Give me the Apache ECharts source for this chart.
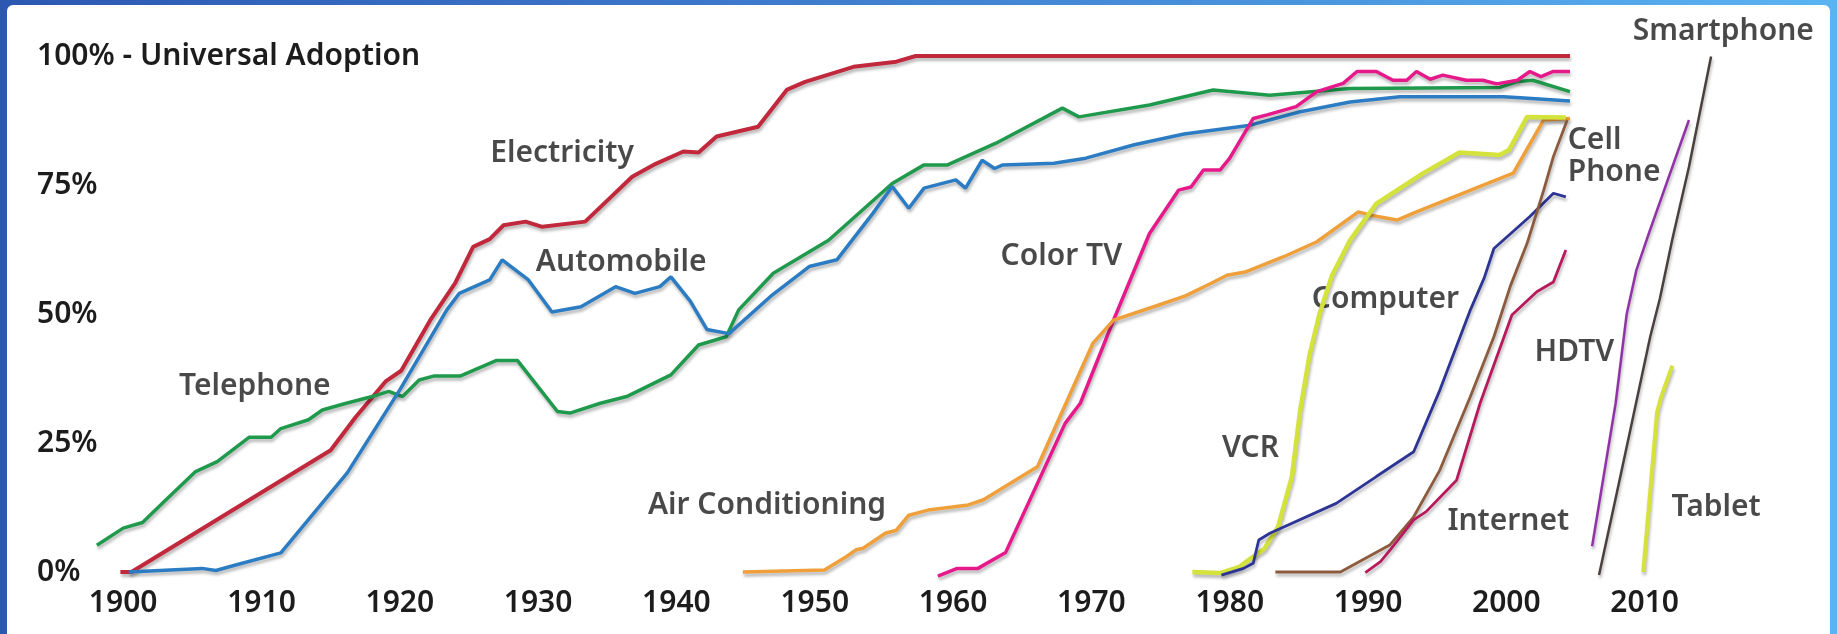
<!DOCTYPE html>
<html>
<head>
<meta charset="utf-8">
<script src="https://cdn.jsdelivr.net/npm/echarts@6/dist/echarts.min.js"></script>
<style>
    html, body { margin: 0; padding: 0; }
    body {
        width: 1837px; height: 634px; overflow: hidden; position: relative;
        background: linear-gradient(to right, #2d58b2 0%, #3b74c9 35%, #4a94dd 70%, #5ab4f2 100%);
    }
    #panel { position: absolute; left: 7px; top: 5px; right: 7px; bottom: 0; background: #fff; border-radius: 6px 6px 0 0; }
    #chart { position: absolute; left: 0; top: 0; width: 1837px; height: 634px; }
</style>
</head>
<body>
<div id="panel"></div>
<div id="chart"></div>
<script>
// adoption share (%) by year
var electricity = [[1899.8,0],[1900.6,0],[1915,23.6],[1916.8,30],[1919,37],[1920.1,39],[1922.2,48.8],[1924,56],[1925.3,63],[1926.5,64.5],[1927.5,67.2],[1929.1,67.9],[1930.3,66.9],[1933.4,67.9],[1935.2,72.5],[1936.8,76.6],[1938.5,79.1],[1940.5,81.5],[1941.6,81.3],[1942.9,84.4],[1945.9,86.3],[1948,93.5],[1949.3,95],[1952.8,97.9],[1955.9,98.9],[1957.3,100],[2004.6,100]];
var automobile = [[1900.4,0],[1905.7,0.7],[1906.7,0.3],[1908.2,1.4],[1911.4,3.7],[1916.2,19.2],[1920,35.3],[1923.4,50.8],[1924.3,54],[1926.5,56.6],[1927.4,60.5],[1929.3,56.6],[1931,50.4],[1933.1,51.4],[1935.6,55.3],[1937,54],[1938.8,55.3],[1939.6,57.2],[1941,52.5],[1942.2,47],[1943.8,46.2],[1946.8,53.4],[1949.6,59.2],[1951.6,60.5],[1954.2,69.5],[1955.6,74.7],[1956.8,70.5],[1957.9,74.4],[1960.2,76],[1960.9,74.4],[1962.1,79.8],[1963,78.2],[1963.6,78.9],[1967.3,79.2],[1969.6,80.2],[1973.1,82.8],[1976.7,84.9],[1981.5,86.6],[1985.1,89.2],[1988.7,91.1],[1992.3,92.1],[1999.8,92.1],[2001,91.9],[2004.6,91.3]];
var telephone = [[1898.1,5.2],[1900,8.5],[1901.4,9.6],[1903.1,14],[1905.2,19.4],[1906.8,21.4],[1909.1,26.1],[1910.7,26.1],[1911.4,27.8],[1913.4,29.5],[1914.4,31.4],[1916,32.6],[1918,34],[1919.2,35],[1920.2,34],[1921.4,37.2],[1922.5,38],[1924.4,38],[1927,41],[1928.5,41],[1931.4,31.1],[1932.3,30.8],[1934.5,32.7],[1936.4,34],[1939.6,38.2],[1941.6,44],[1943.6,45.6],[1944.5,50.8],[1947,57.9],[1951,64.3],[1955.6,75.3],[1957.9,78.9],[1959.6,78.9],[1963.1,83.1],[1967.9,89.9],[1969.1,88.2],[1974.2,90.5],[1978.8,93.4],[1982.9,92.4],[1988.7,93.7],[1999.5,93.9],[2000.7,95],[2001.9,95.3],[2004.6,93.1]];
var colorTV = [[1958.9,-0.8],[1960.3,0.7],[1961.8,0.7],[1963.8,3.8],[1968.1,28.8],[1969.2,32.7],[1971.6,48.8],[1974.2,65.6],[1976.3,74],[1977.2,74.6],[1978.1,77.9],[1979.3,77.9],[1980,80.2],[1981.7,87.9],[1982.7,88.6],[1984.8,90.2],[1986.3,93.1],[1988.2,94.7],[1989.2,97],[1990.6,97],[1991.8,95.3],[1992.8,95.3],[1993.5,97],[1994.5,95.5],[1995.4,96.3],[1997.1,95.3],[1998.3,95.3],[1999.3,94.6],[2000.8,95.3],[2001.7,97],[2002.5,96],[2003.4,97],[2004.6,97]];
var airConditioning = [[1944.8,0],[1950.7,0.4],[1952.3,3],[1953,4.3],[1953.5,4.6],[1955.1,7.5],[1955.9,8.1],[1956.8,11],[1958.2,12],[1961.1,13],[1962.2,14],[1964.5,17.8],[1966.1,20.4],[1970.1,44.3],[1971.6,48.8],[1974.5,51.4],[1976.8,53.5],[1978.7,56],[1979.8,57.5],[1981.2,58.2],[1983.9,61.1],[1986.3,64],[1989.3,69.8],[1990.1,69.2],[1992.1,68.2],[1993.5,69.8],[2000.5,77.3],[2002.7,87.6],[2004.6,87.9]];
var vcr = [[1977.3,0],[1979.3,-0.2],[1980.7,1],[1981.7,3],[1982.5,4.5],[1983.5,8.8],[1984.5,18.5],[1985.1,31.4],[1985.8,42.4],[1986.5,50.1],[1987.4,57.5],[1988.7,64.3],[1990.6,71.4],[1994,77.3],[1996.6,81.3],[1997.8,81.1],[1999.5,80.8],[2000.2,81.8],[2001.5,88.2],[2004.3,88.1]];
var computer = [[1979.4,-0.6],[1981,0.7],[1981.7,1.7],[1982.1,6.2],[1982.9,7.5],[1987.7,13.3],[1990.6,18.5],[1993.3,23.3],[1995.2,35.3],[1997.4,50.8],[1998.4,57],[1999.1,62.7],[2001.7,68.9],[2003.4,73.4],[2004.3,72.7]];
var cellPhone = [[1983.3,0],[1988,0],[1991.6,5.3],[1993.3,10.7],[1995.2,19.8],[1997.4,34],[1999.1,45.6],[2000.3,55.5],[2001.5,63.7],[2002.7,74],[2003.4,80.5],[2004.4,87.6]];
var internet = [[1989.8,-0.1],[1990.9,2],[1991.6,4.3],[1993.3,10.1],[1994.2,11.7],[1996.4,17.8],[1998.1,32.7],[2000.4,49.8],[2002.2,54.3],[2003.4,56.2],[2004.3,62.4]];
var hdtv = [[2006.2,5],[2007.9,32.7],[2008.7,50],[2009.4,58.5],[2010.3,65.6],[2013.2,87.6]];
var smartphone = [[2006.7,-0.6],[2008,15.5],[2009,28],[2010.4,45.6],[2011.1,53],[2012,64.5],[2013.2,78.5],[2014.8,99.9]];
var tablet = [[2009.9,0],[2010.9,31],[2011.2,34],[2012,40]];

// axis ticks
var yearTicks = [1900,1910,1920,1930,1940,1950,1960,1970,1980,1990,2000,2010];
var pctTicks = [0,25,50,75,100];
var pctLabels = ['0%','25%','50%','75%','100% - Universal Adoption'];

// where each line's name sits: [year, %] of the text's left/middle
var lineNames = ['Electricity','Automobile','Telephone','Color TV','Air Conditioning','Computer','VCR','Internet','HDTV','Cell\nPhone','Smartphone','Tablet'];
var namePos = [[1926.5,81.2],[1929.8,60],[1904,36],[1963.4,61.2],[1937.9,12.8],[1985.9,52.9],[1979.4,24],[1995.7,9.7],[2002,42.6],[2004.4,80.6],[2009.1,104.8],[2011.9,12.5]];

var FONT = '"Noto Sans", "Open Sans", sans-serif';
var TEXT = '#1c1c1c';

var chart = echarts.init(document.getElementById('chart'));

function lineSeries(name, data, color, width) {
    return {
        name: name,
        type: 'line',
        data: data,
        showSymbol: false,
        symbol: 'none',
        clip: false,
        silent: true,
        lineStyle: {
            color: color,
            width: width,
            shadowColor: 'rgba(0,0,0,0.28)',
            shadowBlur: 3,
            shadowOffsetX: 1,
            shadowOffsetY: 3
        }
    };
}

var labelData = [];
for (var i = 0; i < lineNames.length; i++) {
    labelData.push({ name: lineNames[i], value: namePos[i] });
}

var option = {
    animation: false,
    grid: { left: 54, right: 54, top: 56, bottom: 62 },
    xAxis: {
        type: 'value',
        min: 1895,
        max: 2020,
        interval: 5,
        axisLine: { show: false },
        axisTick: { show: false },
        splitLine: { show: false },
        axisLabel: {
            margin: 16,
            fontSize: 30,
            fontWeight: 600,
            fontFamily: FONT,
            color: TEXT,
            formatter: function (v) {
                return yearTicks.indexOf(v) >= 0 ? String(v) : '';
            }
        }
    },
    yAxis: {
        type: 'value',
        min: 0,
        max: 100,
        interval: 25,
        axisLine: { show: false },
        axisTick: { show: false },
        splitLine: { show: false },
        axisLabel: {
            align: 'left',
            margin: 17,
            fontSize: 30,
            fontWeight: 600,
            fontFamily: FONT,
            color: TEXT,
            formatter: function (v) {
                return pctLabels[pctTicks.indexOf(v)];
            }
        }
    },
    series: [
        lineSeries('Electricity', electricity, '#c2283c', 4),
        lineSeries('Telephone', telephone, '#1f9a4c', 3.5),
        lineSeries('Automobile', automobile, '#2b7cc2', 3.5),
        lineSeries('Color TV', colorTV, '#e6198b', 3.5),
        lineSeries('Air Conditioning', airConditioning, '#f0a03a', 3.5),
        lineSeries('VCR', vcr, '#d4e23c', 4.5),
        lineSeries('Computer', computer, '#2c3495', 2.8),
        lineSeries('Cell Phone', cellPhone, '#8c5a3c', 2.8),
        lineSeries('Internet', internet, '#b8195c', 2.8),
        lineSeries('HDTV', hdtv, '#9232a8', 2.5),
        lineSeries('Smartphone', smartphone, '#4a403e', 2.5),
        lineSeries('Tablet', tablet, '#d6e23a', 4),
        {
            name: 'names',
            type: 'scatter',
            data: labelData,
            symbolSize: 1,
            clip: false,
            silent: true,
            itemStyle: { color: 'rgba(0,0,0,0)' },
            label: {
                show: true,
                position: 'right',
                distance: 0,
                formatter: '{b}',
                fontSize: 30,
                fontWeight: 600,
                lineHeight: 32,
                fontFamily: FONT,
                color: TEXT
            }
        }
    ]
};

chart.setOption(option);
</script>
</body>
</html>
